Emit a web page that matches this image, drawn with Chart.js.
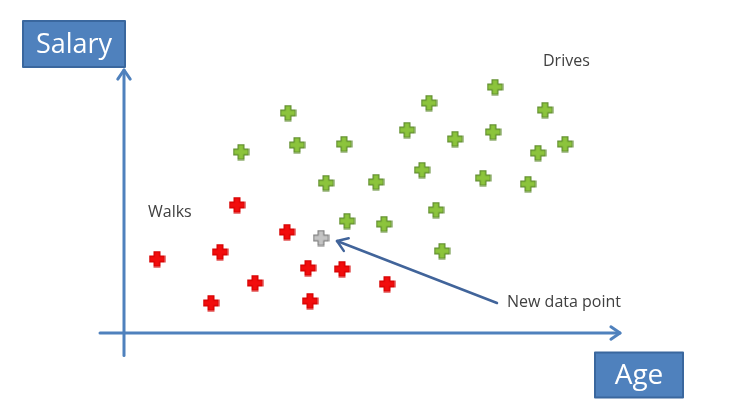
<!DOCTYPE html>
<html>
<head>
<meta charset="utf-8">
<script src="https://cdn.jsdelivr.net/npm/chart.js@4/dist/chart.umd.min.js"></script>
<style>
html,body{margin:0;padding:0;background:#fff;}
canvas{display:block;}
</style>
</head>
<body>
<canvas id="c" width="749" height="403"></canvas>
<script>
// Data (Age, Salary in abstract units 0..100)
const walksAge    = [22.6, 6.6, 19.2, 32.6, 36.8, 43.6, 26.2, 52.6, 17.4, 37.2];
const walksSalary = [51.2, 29.6, 32.4, 40.4, 26.0, 25.6, 20.0, 19.6, 12.0, 12.8];
const drivesAge    = [23.4, 32.8, 34.6, 44.0, 40.4, 50.4, 44.6, 52.0, 56.6, 61.0, 59.6, 66.2, 62.4, 63.6, 74.2, 73.8, 71.8, 84.2, 82.8, 88.2, 80.8];
const drivesSalary = [72.4, 88.0, 75.2, 75.6, 60.0, 60.4, 44.8, 43.6, 81.2, 92.0, 65.2, 77.6, 49.2, 32.8, 98.4, 80.4, 62.0, 89.2, 72.0, 75.6, 59.6];
const newAge = [39.4];
const newSalary = [38.0];
const axisTitles = ["Age", "Salary"];
const classLabels = ["Walks", "Drives", "New data point"];
const labelAge    = [4.8, 83.8, 76.6];
const labelSalary = [48.4, 108.8, 12.4];
const pointerFrom = [74.6, 12.0];
const pointerTo   = [42.6, 36.8];

function plusImage(fill, stroke) {
  const s = 17, cv = document.createElement('canvas');
  cv.width = s; cv.height = s;
  const g = cv.getContext('2d');
  const c = s / 2, h = 7.4, w = 2.9;
  g.beginPath();
  g.moveTo(c - w, c - h); g.lineTo(c + w, c - h); g.lineTo(c + w, c - w);
  g.lineTo(c + h, c - w); g.lineTo(c + h, c + w); g.lineTo(c + w, c + w);
  g.lineTo(c + w, c + h); g.lineTo(c - w, c + h); g.lineTo(c - w, c + w);
  g.lineTo(c - h, c + w); g.lineTo(c - h, c - w); g.lineTo(c - w, c - w);
  g.closePath();
  g.fillStyle = fill; g.fill();
  g.lineWidth = 1.2; g.strokeStyle = stroke; g.stroke();
  return cv;
}
const redPlus = plusImage('#f20d0d', '#d40000');
const greenPlus = plusImage('#8cc43c', '#5e8a2e');
const grayPlus = plusImage('#c4c4c4', '#7f7f7f');

function pts(xs, ys) { return xs.map((x, i) => ({x: x, y: ys[i]})); }

function arrowHead(ctx, x1, y1, x2, y2, len) {
  const a = Math.atan2(y2 - y1, x2 - x1);
  ctx.beginPath();
  ctx.moveTo(x2 - len * Math.cos(a - 0.6), y2 - len * Math.sin(a - 0.6));
  ctx.lineTo(x2, y2);
  ctx.lineTo(x2 - len * Math.cos(a + 0.6), y2 - len * Math.sin(a + 0.6));
  ctx.stroke();
}

function box(ctx, cx, cy, w, h, text, size) {
  ctx.fillStyle = '#4f81bd';
  ctx.fillRect(cx - w / 2, cy - h / 2, w, h);
  ctx.lineWidth = 2;
  ctx.strokeStyle = '#3a679e';
  ctx.strokeRect(cx - w / 2, cy - h / 2, w, h);
  ctx.fillStyle = '#ffffff';
  ctx.font = size + 'px "Open Sans", sans-serif';
  ctx.textAlign = 'center';
  ctx.textBaseline = 'middle';
  ctx.fillText(text, cx, cy + 1);
}

const decor = {
  id: 'decor',
  beforeDatasetsDraw(chart) {
    const ctx = chart.ctx, xs = chart.scales.x, ys = chart.scales.y;
    ctx.save();
    ctx.strokeStyle = '#4f81bd';
    ctx.lineWidth = 3;
    ctx.lineCap = 'round';
    ctx.lineJoin = 'round';
    const x0 = xs.getPixelForValue(0), y0 = ys.getPixelForValue(0);
    const yTop = ys.getPixelForValue(105.2), yBot = ys.getPixelForValue(-9);
    ctx.beginPath(); ctx.moveTo(x0, yBot); ctx.lineTo(x0, yTop); ctx.stroke();
    arrowHead(ctx, x0, yBot, x0, yTop, 11);
    const xL = xs.getPixelForValue(-4.8), xR = xs.getPixelForValue(99.2);
    ctx.beginPath(); ctx.moveTo(xL, y0); ctx.lineTo(xR, y0); ctx.stroke();
    arrowHead(ctx, xL, y0, xR, y0, 11);
    ctx.strokeStyle = '#41649a';
    ctx.lineWidth = 2.5;
    const px1 = xs.getPixelForValue(pointerFrom[0]), py1 = ys.getPixelForValue(pointerFrom[1]);
    const px2 = xs.getPixelForValue(pointerTo[0]), py2 = ys.getPixelForValue(pointerTo[1]);
    ctx.beginPath(); ctx.moveTo(px1, py1); ctx.lineTo(px2, py2); ctx.stroke();
    arrowHead(ctx, px1, py1, px2, py2, 12);
    box(ctx, x0 - 50, yTop - 26, 102, 46, axisTitles[1], 27);
    box(ctx, xR + 19, y0 + 42, 88, 45, axisTitles[0], 28);
    ctx.fillStyle = '#404040';
    ctx.font = '16px "Open Sans", sans-serif';
    ctx.textAlign = 'left';
    ctx.textBaseline = 'middle';
    classLabels.forEach((t, i) => {
      ctx.fillText(t, xs.getPixelForValue(labelAge[i]), ys.getPixelForValue(labelSalary[i]));
    });
    ctx.restore();
  }
};

new Chart(document.getElementById('c'), {
  type: 'scatter',
  data: {
    datasets: [
      {label: 'Walks', data: pts(walksAge, walksSalary), pointStyle: redPlus},
      {label: 'Drives', data: pts(drivesAge, drivesSalary), pointStyle: greenPlus},
      {label: 'New', data: pts(newAge, newSalary), pointStyle: grayPlus}
    ]
  },
  options: {
    responsive: false,
    animation: false,
    devicePixelRatio: 1,
    layout: {padding: {left: 124, right: 125, top: 83, bottom: 70}},
    clip: false,
    scales: {
      x: {type: 'linear', min: 0, max: 100, display: false},
      y: {type: 'linear', min: 0, max: 100, display: false}
    },
    plugins: {legend: {display: false}, tooltip: {enabled: false}},
    events: []
  },
  plugins: [decor]
});
</script>
</body>
</html>
